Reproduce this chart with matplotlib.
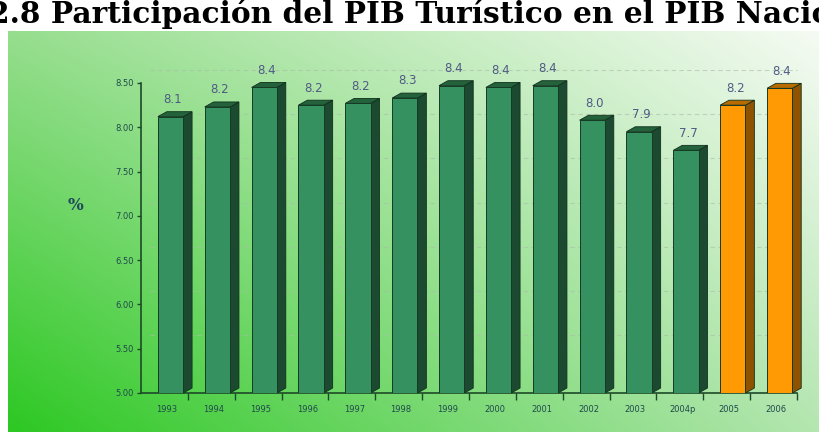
import numpy as np
import matplotlib.pyplot as plt
from matplotlib.patches import Polygon

# Data
years = ['1993', '1994', '1995', '1996', '1997', '1998', '1999',
         '2000', '2001', '2002', '2003', '2004p', '2005', '2006']
share = [8.12, 8.23, 8.45, 8.25, 8.27, 8.33, 8.47,
         8.45, 8.47, 8.08, 7.95, 7.74, 8.25, 8.44]
labels = ['8.1', '8.2', '8.4', '8.2', '8.2', '8.3', '8.4',
          '8.4', '8.4', '8.0', '7.9', '7.7', '8.2', '8.4']
projected = [False] * 12 + [True] * 2
yticks = [5.0, 5.5, 6.0, 6.5, 7.0, 7.5, 8.0, 8.5]
title = '2.8 Participación del PIB Turístico en el PIB Nacional'

W, H = 819, 432
fig = plt.figure(figsize=(W / 100, H / 100), dpi=100)
fig.patch.set_facecolor('white')

# gradient panel behind the chart
bg = fig.add_axes([8 / W, 0, 1 - 8 / W, (H - 31) / H])
bg.set_axis_off()
u = np.linspace(0, 1, 200)[None, :, None]
v = np.linspace(1, 0, 120)[:, None, None]  # 1 at top
bl = np.array([45, 200, 35]) / 255
br = np.array([180, 230, 176]) / 255
tl = np.array([150, 222, 142]) / 255
tr = np.array([245, 251, 243]) / 255
img = (bl * (1 - u) * (1 - v) + br * u * (1 - v)
       + tl * (1 - u) * v + tr * u * v)
bg.imshow(img, aspect='auto', extent=[0, 1, 0, 1], interpolation='bilinear')

# title is cut at both sides in the original picture
fig.text(-0.014, 1.0 - 23 / H, title, fontsize=21.3, fontweight='bold',
         family='DejaVu Serif', va='baseline', ha='left', color='black')

ax = fig.add_axes([141 / W, (H - 393) / H, (797 - 141) / W, (393 - 83) / H])
ax.patch.set_alpha(0)
n = len(years)
ax.set_xlim(0, n)
ax.set_ylim(5.0, 8.5)

dx, dy = 0.19, 0.056
x_off, bw = 0.36, 0.54

# back wall gridlines
for t in yticks[1:]:
    ax.plot([dx, n], [t + 0.15, t + 0.15], ls=(0, (4, 3)), lw=0.8,
            color='#a9bda9', alpha=0.6, clip_on=False, zorder=1)

for i, (val, lab, proj) in enumerate(zip(share, labels, projected)):
    if proj:
        front, side, top = '#ff9a05', '#8f5200', '#b86c00'
    else:
        front, side, top = '#35915f', '#1c4a30', '#24623c'
    x0 = i + x_off
    x1 = x0 + bw
    ax.add_patch(Polygon([(x1, 5.0), (x1 + dx, 5.0 + dy), (x1 + dx, val + dy), (x1, val)],
                         closed=True, facecolor=side, edgecolor='#10301c', lw=0.6,
                         clip_on=False, zorder=3))
    ax.add_patch(Polygon([(x0, val), (x1, val), (x1 + dx, val + dy), (x0 + dx, val + dy)],
                         closed=True, facecolor=top, edgecolor='#10301c', lw=0.6,
                         clip_on=False, zorder=3))
    ax.bar(x0, val - 5.0, bottom=5.0, width=bw, align='edge', color=front,
           edgecolor='#163a24', lw=0.7, zorder=3)
    ax.text(x0 + bw / 2 + 0.05, val + 0.12, lab, ha='center', va='bottom',
            fontsize=8.5, color='#4f5a84', zorder=4, clip_on=False)

for s in ['top', 'right']:
    ax.spines[s].set_visible(False)
for s in ['left', 'bottom']:
    ax.spines[s].set_color('#1d4a28')
    ax.spines[s].set_linewidth(1.2)

ax.set_yticks(yticks)
ax.set_yticklabels(['%.2f' % t for t in yticks], fontsize=6, color='#1f4a4a')
ax.tick_params(axis='y', length=3, width=1, color='#1d4a28', pad=2)

ax.set_xticks(np.arange(n) + 0.55)
ax.set_xticklabels(years, fontsize=6, color='#1f4a4a')
ax.tick_params(axis='x', which='major', length=0, pad=9)
ax.set_xticks(np.arange(1, n + 1), minor=True)
ax.tick_params(axis='x', which='minor', length=5, width=1, color='#1d4a28')

fig.text(75 / W, 1 - 206 / H, '%', fontsize=12, fontweight='bold',
         family='DejaVu Serif', color='#1f4a5a', ha='center', va='center')

fig.savefig('out.png', dpi=100)
